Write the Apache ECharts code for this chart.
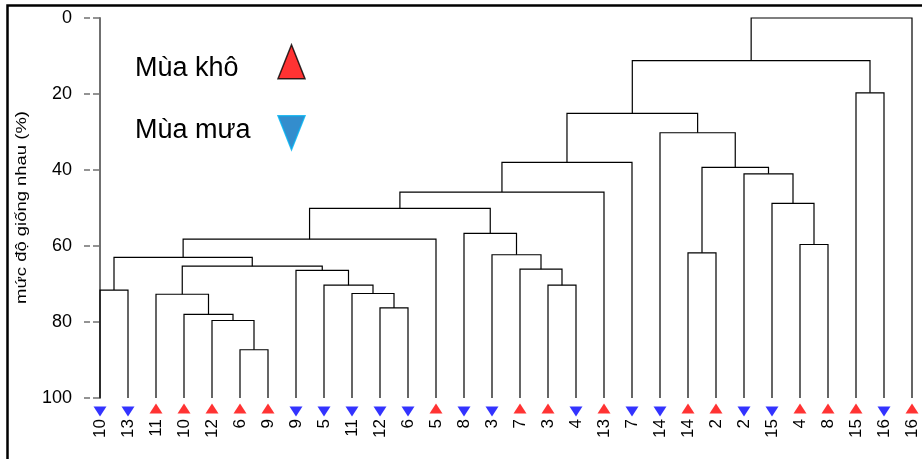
<!DOCTYPE html>
<html>
<head>
<meta charset="utf-8">
<script src="https://cdn.jsdelivr.net/npm/echarts@6/dist/echarts.min.js"></script>
<style>html,body{margin:0;padding:0;background:#fff}#c{width:922px;height:459px}</style>
</head>
<body>
<div id="c"></div>
<script>
// Leaves (left to right)
const leafLabels = ['10','13','11','10','12','6','9','9','5','11','12','6','5','8','3','7','3','4','13','7','14','14','2','2','15','4','8','15','16','16'];
const leafSeason = ['mua','mua','kho','kho','kho','kho','kho','mua','mua','mua','mua','mua','kho','mua','mua','kho','kho','mua','kho','mua','mua','kho','kho','mua','mua','kho','kho','kho','mua','kho'];
// Merges: node ids 0..29 are leaves, 30+k is merge k
const mergeA = [5, 4, 3, 2, 0, 10, 9, 8, 7, 33, 34, 40, 16, 15, 14, 13, 41, 46, 47, 21, 25, 24, 23, 49, 20, 48, 27, 55, 57];
const mergeB = [6, 30, 31, 32, 1, 11, 35, 36, 37, 38, 39, 12, 17, 42, 43, 44, 45, 18, 19, 22, 26, 50, 51, 52, 53, 54, 28, 56, 29];
const mergeHeight = [87.3, 79.6, 78.0, 72.7, 71.6, 76.3, 72.5, 70.3, 66.4, 65.3, 63.0, 58.2, 70.3, 66.1, 62.3, 56.7, 50.1, 45.8, 38.0, 61.8, 59.6, 48.8, 41.0, 39.3, 30.2, 25.1, 19.7, 11.2, 0];
const yTicks = [0, 20, 40, 60, 80, 100];

const nLeaf = leafLabels.length;
const pos = [], hgt = [];
for (let i = 0; i < nLeaf; i++) { pos.push(i); hgt.push(100); }
const links = [];
for (let k = 0; k < mergeA.length; k++) {
  const a = mergeA[k], b = mergeB[k], h = mergeHeight[k];
  links.push([pos[a], hgt[a], pos[b], hgt[b], h]);
  pos.push((pos[a] + pos[b]) / 2);
  hgt.push(h);
}
const dry = [], wet = [];
leafSeason.forEach((s, i) => { (s === 'kho' ? dry : wet).push([i, 100]); });

const FONT = 'Liberation Sans, Arial, sans-serif';
const chart = echarts.init(document.getElementById('c'));
const yBase = {
  type: 'value', inverse: true, min: 0, max: 100, interval: 20, position: 'left', offset: 16,
  splitLine: { show: false }
};
function legendText(padTop, padBottom) {
  return {
    fontSize: 27, fontFamily: FONT, color: '#000',
    rich: { t: { width: 138, align: 'left', fontSize: 27, fontFamily: FONT, color: '#000', lineHeight: 30,
      padding: [padTop, 0, padBottom, 0] } }
  };
}
chart.setOption({
  animation: false,
  grid: { left: 100, width: 812, top: 18, height: 380 },
  xAxis: {
    type: 'value', min: 0, max: nLeaf - 1, interval: 1,
    axisLine: { show: false }, axisTick: { show: false }, splitLine: { show: false },
    axisLabel: {
      rotate: 90, margin: 21, fontSize: 17, color: '#000', fontFamily: FONT,
      formatter: v => leafLabels[v]
    }
  },
  yAxis: [
    Object.assign({}, yBase, {
      axisLine: { show: true, lineStyle: { color: '#707070', width: 2 } },
      axisTick: { show: true, length: 7, lineStyle: { color: '#707070', width: 1.5 } },
      axisLabel: { margin: 12, fontSize: 18, color: '#000', fontFamily: FONT,
        formatter: v => (yTicks.indexOf(v) >= 0 ? String(v) : '') }
    }),
    Object.assign({}, yBase, {
      axisLine: { show: false },
      axisTick: { show: true, inside: true, length: 6, lineStyle: { color: '#707070', width: 1.5 } },
      axisLabel: { show: false }
    })
  ],
  legend: [
    {
      data: [{ name: 'Mùa khô', icon: 'path://M13.5,0 L27,34 L0,34 Z',
        itemStyle: { color: '#ff0000', borderColor: '#000', borderWidth: 1.5 } }],
      left: 135, top: 41.75, padding: 0, align: 'right', orient: 'vertical',
      itemWidth: 27, itemHeight: 34.5, selectedMode: false,
      formatter: '{t|{name}}', textStyle: legendText(13, 0)
    },
    {
      data: [{ name: 'Mùa mưa', icon: 'path://M0,0 L27,0 L13.5,34 Z',
        itemStyle: { color: '#0070c0', borderColor: '#00b0f0', borderWidth: 1.5 } }],
      left: 135, top: 115, padding: 0, align: 'right', orient: 'vertical',
      itemWidth: 27, itemHeight: 34.5, selectedMode: false,
      formatter: '{t|{name}}', textStyle: legendText(0, 4)
    }
  ],
  graphic: [
    { type: 'rect', shape: { x: 7.5, y: 5.5, width: 1200, height: 1200 },
      style: { fill: null, stroke: '#000', lineWidth: 2.5 }, silent: true },
    { type: 'text', x: 21.5, y: 207.5, rotation: Math.PI / 2, scaleX: 1.23, scaleY: 1,
      style: { text: 'mức độ giống nhau (%)', fontSize: 15, fontFamily: FONT, fill: '#000',
        textAlign: 'center', textVerticalAlign: 'middle' } }
  ],
  series: [
    {
      type: 'custom', name: 'tree', data: links, encode: { x: [0, 2], y: [1, 3, 4] },
      silent: true, clip: false,
      renderItem: function (params, api) {
        const x1 = api.value(0), y1 = api.value(1), x2 = api.value(2), y2 = api.value(3), h = api.value(4);
        const pts = [api.coord([x1, y1]), api.coord([x1, h]), api.coord([x2, h]), api.coord([x2, y2])];
        return { type: 'polyline', shape: { points: pts }, style: { stroke: '#000', lineWidth: 1.2, fill: null } };
      }
    },
    {
      type: 'scatter', name: 'Mùa khô', data: dry, symbol: 'triangle', symbolSize: [13, 10],
      symbolOffset: [0, 10.5], itemStyle: { color: '#ff0000' }, clip: false, silent: true, z: 5
    },
    {
      type: 'scatter', name: 'Mùa mưa', data: wet, symbol: 'triangle', symbolRotate: 180, symbolSize: [13, 10],
      symbolOffset: [0, 13.5], itemStyle: { color: '#0000ff' }, clip: false, silent: true, z: 5
    }
  ]
});
</script>
</body>
</html>
